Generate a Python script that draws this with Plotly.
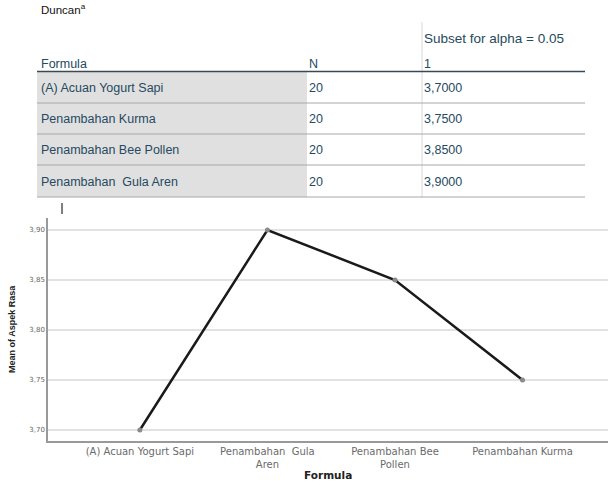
import plotly.graph_objects as go

W, H = 608, 481

# Table data
table_title = "Duncan<sup>a</sup>"
table_headers = ["Formula", "N", "1"]
subset_header = "Subset for alpha = 0.05"
table_formula = ["(A) Acuan Yogurt Sapi", "Penambahan Kurma", "Penambahan Bee Pollen", "Penambahan  Gula Aren"]
table_n = ["20", "20", "20", "20"]
table_subset = ["3,7000", "3,7500", "3,8500", "3,9000"]

# Chart data
categories = ["(A) Acuan Yogurt Sapi", "Penambahan  Gula<br>Aren", "Penambahan Bee<br>Pollen", "Penambahan Kurma"]
means = [3.70, 3.90, 3.85, 3.75]
y_ticks = [3.70, 3.75, 3.80, 3.85, 3.90]

def px(x):
    return x / W

def py(y):
    return 1 - y / H

FONT = "Liberation Sans, Arial, sans-serif"
CFONT = "DejaVu Sans, sans-serif"
TXT = "#264a60"

fig = go.Figure()
fig.add_trace(go.Scatter(
    x=list(range(len(categories))), y=means, mode="lines+markers",
    line=dict(color="#1a1a1a", width=2.5),
    marker=dict(color="#8a8a8a", size=5),
    hoverinfo="skip", showlegend=False,
))

shapes = []
annotations = []

# gray first column background
shapes.append(dict(type="rect", xref="paper", yref="paper", x0=px(37), x1=px(307),
                   y0=py(197), y1=py(72), fillcolor="#e0e0e0", line=dict(width=0), layer="below"))
# vertical separator
shapes.append(dict(type="line", xref="paper", yref="paper", x0=px(422), x1=px(422),
                   y0=py(198), y1=py(22), line=dict(color="#d8d8d8", width=1)))
# header line
shapes.append(dict(type="line", xref="paper", yref="paper", x0=px(37), x1=px(585),
                   y0=py(71.5), y1=py(71.5), line=dict(color="#3a4a55", width=1.5)))
# row separators
for yy in [103, 134, 165, 197]:
    shapes.append(dict(type="line", xref="paper", yref="paper", x0=px(37), x1=px(585),
                       y0=py(yy), y1=py(yy), line=dict(color="#a8a8a8", width=1)))
# cursor mark
shapes.append(dict(type="line", xref="paper", yref="paper", x0=px(62), x1=px(62),
                   y0=py(214), y1=py(203), line=dict(color="#000000", width=1)))

def txt(text, x, y, size=12.5, color=TXT, xanchor="left"):
    annotations.append(dict(text=text, x=px(x), y=py(y), xref="paper", yref="paper",
                            xanchor=xanchor, yanchor="middle", showarrow=False,
                            font=dict(family=FONT, size=size, color=color)))

txt(table_title, 39, 9, size=11.5, color="#111111")
txt(subset_header, 422, 38, size=13.5)
txt(table_headers[0], 39, 64)
txt(table_headers[1], 307, 64)
txt(table_headers[2], 422, 64)
row_y = [88, 119, 150, 182]
for i, ry in enumerate(row_y):
    txt(table_formula[i], 39, ry)
    txt(table_n[i], 307, ry)
    txt(table_subset[i], 422, ry)

# axis titles
annotations.append(dict(text="<b>Mean of Aspek Rasa</b>", x=px(12), y=py(329), xref="paper", yref="paper",
                        textangle=-90, showarrow=False, xanchor="center", yanchor="middle",
                        font=dict(family=FONT, size=9, color="#222222")))
annotations.append(dict(text="<b>Formula</b>", x=px(328), y=py(475), xref="paper", yref="paper",
                        showarrow=False, xanchor="center", yanchor="middle",
                        font=dict(family=CFONT, size=10.5, color="#222222")))

fig.update_layout(
    width=W, height=H,
    margin=dict(l=0, r=0, t=0, b=0),
    paper_bgcolor="white", plot_bgcolor="white",
    separators=",.",
    shapes=shapes, annotations=annotations,
    xaxis=dict(domain=[px(48), 1.0], range=[-0.72, 3.67],
               tickvals=list(range(len(categories))), ticktext=categories,
               tickfont=dict(family=CFONT, size=10, color="#6a6a6a"),
               showgrid=False, zeroline=False, showline=True, linecolor="#999999", linewidth=1.5,
               ticks="", ticklen=0),
    yaxis=dict(domain=[py(441), py(218)], range=[3.689, 3.912],
               tickvals=y_ticks, tickformat=".2f",
               tickfont=dict(family=CFONT, size=7, color="#666666"),
               showgrid=True, gridcolor="#e2e2e2", gridwidth=1.5,
               zeroline=False, showline=True, linecolor="#999999", linewidth=1.5,
               ticks="", ticklen=0),
    font=dict(family=FONT),
)

fig.write_html("out.html", config={"displayModeBar": False},
               post_script="document.body.style.margin='0px';")
